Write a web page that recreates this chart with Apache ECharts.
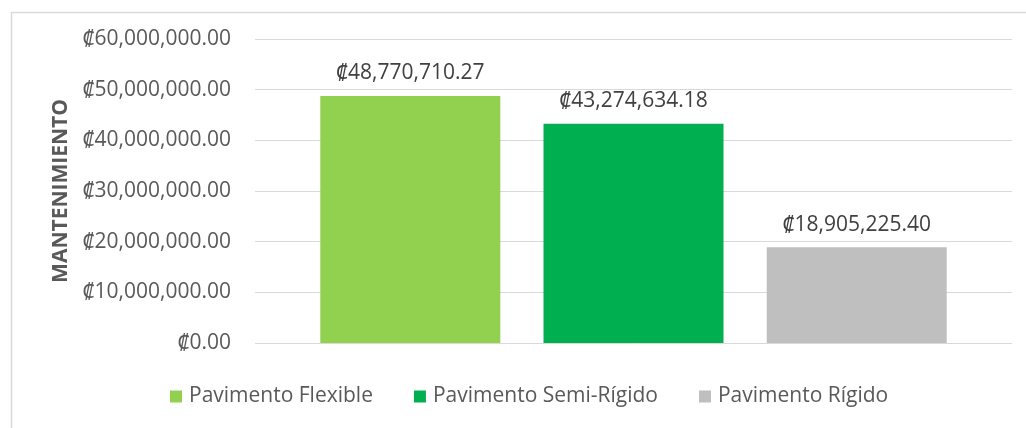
<!DOCTYPE html>
<html>
<head>
<meta charset="utf-8">
<script src="https://cdn.jsdelivr.net/npm/echarts@6/dist/echarts.min.js"></script>
<style>
  html, body { margin: 0; padding: 0; background: #fff; }
  #chart { width: 1026px; height: 428px; }
</style>
</head>
<body>
<div id="chart"></div>
<script>
// Maintenance cost per pavement type (colones)
const categories = ['MANTENIMIENTO'];
const seriesNames = ['Pavimento Flexible', 'Pavimento Semi-Rígido', 'Pavimento Rígido'];
const seriesValues = [48770710.27, 43274634.18, 18905225.40];
const seriesColors = ['#92d050', '#00b050', '#bfbfbf'];
const yTicks = { min: 0, max: 60000000, interval: 10000000 };

const fontFamily = '"Open Sans", "Noto Sans", sans-serif';

function colones(v) {
  return '₡' + Number(v).toLocaleString('en-US', { minimumFractionDigits: 2, maximumFractionDigits: 2 });
}

const chart = echarts.init(document.getElementById('chart'));

const series = seriesNames.map((name, i) => ({
  name: name,
  type: 'bar',
  data: [seriesValues[i]],
  barWidth: 180,
  barGap: '24%',
  itemStyle: { color: seriesColors[i] },
  label: {
    show: true,
    position: 'top',
    distance: 12,
    formatter: p => colones(p.value),
    color: '#404040',
    fontSize: 21,
    fontFamily: fontFamily
  }
}));

chart.setOption({
  animation: false,
  backgroundColor: '#ffffff',
  graphic: [{
    type: 'rect',
    left: 9,
    top: 10,
    shape: { width: 1100, height: 500 },
    style: { fill: 'none', stroke: '#d9d9d9', lineWidth: 1.5 },
    silent: true,
    z: -1
  }],
  grid: { left: 255, right: 14, top: 39, bottom: 85 },
  legend: {
    bottom: 16,
    left: 165,
    itemWidth: 12,
    itemHeight: 12,
    itemGap: 41,
    icon: 'rect',
    textStyle: { color: '#595959', fontSize: 21, fontFamily: fontFamily, padding: [0, 0, 0, 2] },
    data: seriesNames
  },
  xAxis: {
    type: 'category',
    data: categories,
    axisLine: { show: false },
    axisTick: { show: false },
    axisLabel: { show: false }
  },
  yAxis: {
    type: 'value',
    min: yTicks.min,
    max: yTicks.max,
    interval: yTicks.interval,
    name: 'MANTENIMIENTO',
    nameLocation: 'middle',
    nameGap: 183,
    nameRotate: 90,
    nameTextStyle: { color: '#595959', fontSize: 21, fontWeight: 'bold', fontFamily: fontFamily },
    axisLine: { show: false },
    axisTick: { show: false },
    axisLabel: {
      formatter: v => colones(v),
      color: '#595959',
      fontSize: 21,
      margin: 24,
      fontFamily: fontFamily
    },
    splitLine: { lineStyle: { color: '#d9d9d9', width: 1 } }
  },
  series: series
});
</script>
</body>
</html>
